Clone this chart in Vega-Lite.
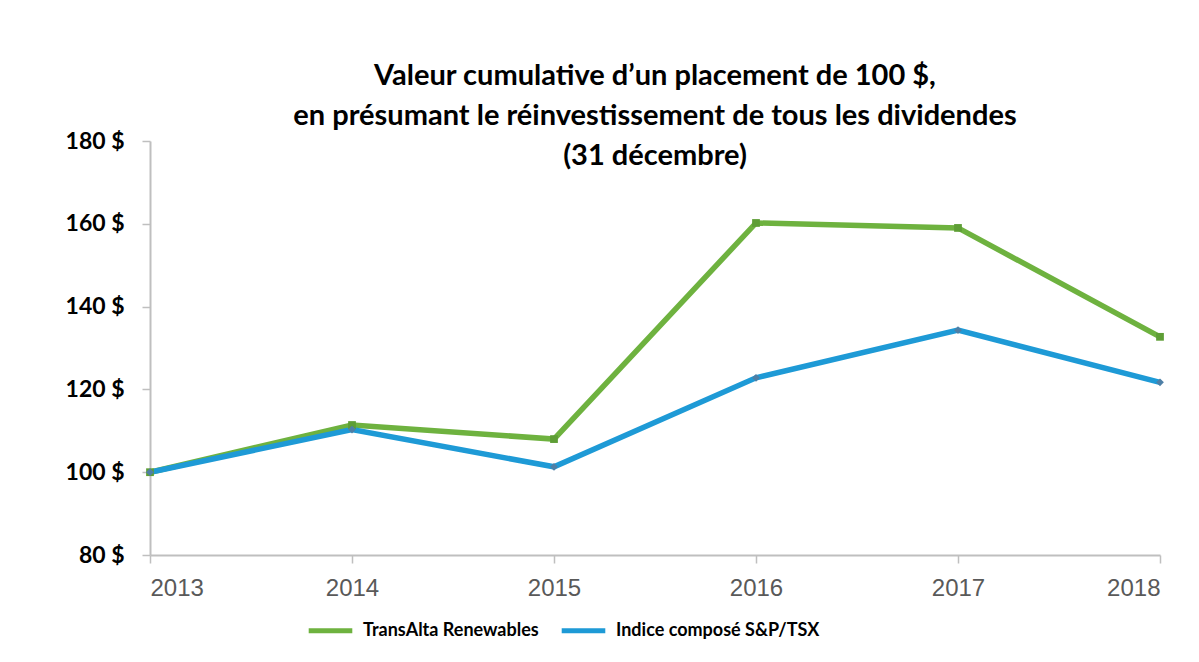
{
  "$schema": "https://vega.github.io/schema/vega-lite/v6.json",
  "autosize": "none",
  "width": 1010,
  "height": 414,
  "padding": {"left": 150, "top": 141, "right": 39, "bottom": 107},
  "background": "white",
  "config": {"view": {"stroke": null}},
  "title": {
    "text": ["Valeur cumulative d’un placement de 100 $,", "en présumant le réinvestissement de tous les dividendes", "(31 décembre)"],
    "font": "Lato",
    "fontWeight": "bold",
    "fontSize": 29,
    "lineHeight": 40,
    "color": "#000000",
    "anchor": "middle",
    "offset": -41
  },
  "data": {
    "values": [
      {"year": 2013, "series": "TransAlta Renewables", "value": 100},
      {"year": 2014, "series": "TransAlta Renewables", "value": 111.4},
      {"year": 2015, "series": "TransAlta Renewables", "value": 108.0},
      {"year": 2016, "series": "TransAlta Renewables", "value": 160.2},
      {"year": 2017, "series": "TransAlta Renewables", "value": 159.0},
      {"year": 2018, "series": "TransAlta Renewables", "value": 132.7},
      {"year": 2013, "series": "Indice composé S&P/TSX", "value": 100},
      {"year": 2014, "series": "Indice composé S&P/TSX", "value": 110.3},
      {"year": 2015, "series": "Indice composé S&P/TSX", "value": 101.3},
      {"year": 2016, "series": "Indice composé S&P/TSX", "value": 122.8},
      {"year": 2017, "series": "Indice composé S&P/TSX", "value": 134.3},
      {"year": 2018, "series": "Indice composé S&P/TSX", "value": 121.7}
    ]
  },
  "encoding": {
    "x": {
      "field": "year",
      "type": "quantitative",
      "scale": {"domain": [2013, 2018], "nice": false, "zero": false},
      "axis": {
        "title": null,
        "values": [2013, 2014, 2015, 2016, 2017, 2018],
        "format": "d",
        "grid": false,
        "domainColor": "#bfbfbf",
        "domainWidth": 2,
        "tickColor": "#bfbfbf",
        "tickWidth": 1.5,
        "tickSize": 8,
        "labelFont": "Liberation Sans",
        "labelFontSize": 24,
        "labelColor": "#595959",
        "labelPadding": 13
      }
    },
    "y": {
      "field": "value",
      "type": "quantitative",
      "scale": {"domain": [80, 180], "nice": false, "zero": false},
      "axis": {
        "title": null,
        "values": [80, 100, 120, 140, 160, 180],
        "labelExpr": "datum.value + ' $'",
        "grid": false,
        "domainColor": "#bfbfbf",
        "domainWidth": 2,
        "tickColor": "#bfbfbf",
        "tickWidth": 1.5,
        "tickSize": 8,
        "labelFont": "Lato",
        "labelFontWeight": "bold",
        "labelFontSize": 23,
        "labelColor": "#000000",
        "labelPadding": 18
      }
    },
    "color": {
      "field": "series",
      "type": "nominal",
      "scale": {"domain": ["TransAlta Renewables", "Indice composé S&P/TSX"], "range": ["#6EB23F", "#1E9AD6"]},
      "legend": {
        "title": null,
        "orient": "none",
        "legendX": 156,
        "legendY": 465,
        "direction": "horizontal",
        "symbolType": "stroke",
        "symbolStrokeWidth": 5,
        "symbolSize": 1900,
        "labelFont": "Lato",
        "labelFontWeight": "bold",
        "labelFontSize": 18,
        "labelColor": "#000000",
        "labelOffset": 8,
        "columnPadding": 12,
        "labelLimit": 400
      }
    }
  },
  "layer": [
    {"mark": {"type": "line", "strokeWidth": 5.5}},
    {
      "mark": {"type": "point", "filled": true, "size": 60, "opacity": 1},
      "encoding": {
        "shape": {
          "field": "series",
          "type": "nominal",
          "scale": {"domain": ["TransAlta Renewables", "Indice composé S&P/TSX"], "range": ["square", "diamond"]},
          "legend": null
        },
        "color": {
          "field": "series",
          "type": "nominal",
          "scale": {"domain": ["TransAlta Renewables", "Indice composé S&P/TSX"], "range": ["#5E9E35", "#4E7FA6"]},
          "legend": null
        }
      }
    }
  ],
  "resolve": {"scale": {"color": "independent"}}
}
